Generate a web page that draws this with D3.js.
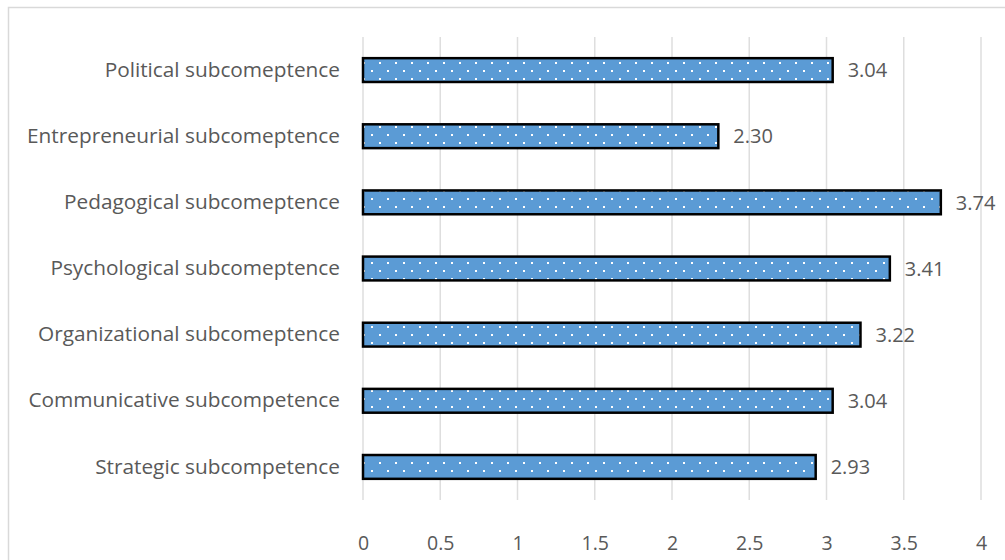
<!DOCTYPE html>
<html>
<head>
<meta charset="utf-8">
<script src="https://cdn.jsdelivr.net/npm/d3@7"></script>
<style>
  body { margin: 0; background: #fff; }
  text { font-family: "Open Sans", "Liberation Sans", sans-serif; fill: #595959; }
</style>
</head>
<body>
<script>
// data, top to bottom as drawn
var categories = [
    "Political subcomeptence",
    "Entrepreneurial subcomeptence",
    "Pedagogical subcomeptence",
    "Psychological subcomeptence",
    "Organizational subcomeptence",
    "Communicative subcompetence",
    "Strategic subcompetence"
];
var values = [3.04, 2.30, 3.74, 3.41, 3.22, 3.04, 2.93];
var xTicks = [0, 0.5, 1, 1.5, 2, 2.5, 3, 3.5, 4];

var width = 1005, height = 560;
var fontFam = "'Open Sans', sans-serif";
var svg = d3.select("body").append("svg")
    .attr("width", width)
    .attr("height", height);

// dotted fill like the excel pattern
var defs = svg.append("defs");
var pat = defs.append("pattern")
    .attr("id", "dots")
    .attr("patternUnits", "userSpaceOnUse")
    .attr("width", 16).attr("height", 16)
    .attr("x", 363).attr("y", 62);
pat.append("rect").attr("width", 16).attr("height", 16).attr("fill", "#5B9BD5");
pat.append("rect").attr("x", 0).attr("y", 0).attr("width", 2).attr("height", 2).attr("fill", "#fff");
pat.append("rect").attr("x", 8).attr("y", 8).attr("width", 2).attr("height", 2).attr("fill", "#fff");

// chart frame
svg.append("rect")
    .attr("x", 8.5).attr("y", 7.5)
    .attr("width", 1010).attr("height", 570)
    .attr("fill", "none")
    .attr("stroke", "#d9d9d9")
    .attr("stroke-width", 1.5);

var x = d3.scaleLinear().domain([0, 4]).range([363, 981]);
var y = d3.scaleBand().domain(categories).range([37, 500]).paddingInner(0.64).paddingOuter(0.32);

// gridlines
svg.append("g").selectAll("line")
    .data(xTicks)
    .enter().append("line")
    .attr("x1", function(d) { return x(d); })
    .attr("x2", function(d) { return x(d); })
    .attr("y1", 37).attr("y2", 500)
    .attr("stroke", "#dedede")
    .attr("stroke-width", 1.5);

// x axis labels
var xAxis = d3.axisBottom(x).tickValues(xTicks).tickSize(0).tickPadding(0)
    .tickFormat(d3.format("~g"));
var gx = svg.append("g").attr("transform", "translate(0,536)").call(xAxis);
gx.select(".domain").remove();
gx.selectAll("text").style("font-size", "19.5px").style("font-family", fontFam).attr("fill", "#595959");

// category labels
var yAxis = d3.axisLeft(y).tickSize(0).tickPadding(0);
var gy = svg.append("g").attr("transform", "translate(340,0)").call(yAxis);
gy.select(".domain").remove();
gy.selectAll("text").style("font-size", "20.8px").style("font-family", fontFam).attr("fill", "#595959");

// bars
svg.append("g").selectAll("rect")
    .data(values)
    .enter().append("rect")
    .attr("x", x(0))
    .attr("y", function(d, i) { return y(categories[i]); })
    .attr("width", function(d) { return x(d) - x(0); })
    .attr("height", y.bandwidth())
    .attr("fill", "url(#dots)")
    .attr("stroke", "#000")
    .attr("stroke-width", 2.5);

// value labels
svg.append("g").selectAll("text")
    .data(values)
    .enter().append("text")
    .attr("x", function(d) { return x(d) + 15; })
    .attr("y", function(d, i) { return y(categories[i]) + y.bandwidth() / 2; })
    .attr("dy", "0.36em")
    .style("font-size", "20px")
    .text(function(d) { return d.toFixed(2); });
</script>
</body>
</html>
